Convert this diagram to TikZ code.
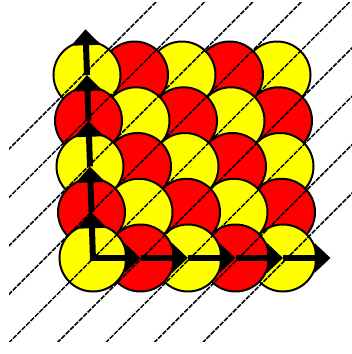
\documentclass[tikz,border=0pt]{standalone}
\usetikzlibrary{arrows.meta}
\definecolor{cred}{RGB}{255,0,0}
\definecolor{cyel}{RGB}{255,255,0}
\begin{document}
\begin{tikzpicture}[x=1pt,y=-1pt,
  disc/.style={circle,draw=black,line width=2pt,inner sep=0pt,outer sep=0pt,minimum size=67pt},
  guide/.style={line width=1.5pt,dash pattern=on 5pt off 1.2pt},
  vec/.style={line width=6pt,-{Triangle[length=16pt,width=29pt]}}]
\useasboundingbox (0,0) rectangle (352,354);
% lattice points
\foreach \i in {0,...,4}{\foreach \j in {0,...,4}{
  \coordinate (p\i\j) at ({93+47.5*\i-1.5*\j},{258-45.75*\j});}}
% discs: upper rows first, each row from right to left
\foreach \j in {4,3,2,1,0}{\foreach \i in {4,3,2,1,0}{
  \pgfmathtruncatemacro\parity{mod(\i+\j,2)}
  \ifnum\parity=0 \def\col{cyel}\else\def\col{cred}\fi
  \node[disc,fill=\col] (c\i\j) at (p\i\j) {};}}
% dashed diagonal guide lines
\begin{scope}
\clip (9,2) rectangle (353,341);
\foreach \c in {0,...,8}{
  \coordinate (la\c) at ({158+48.4*\c-400},400);
  \coordinate (lb\c) at ({158+48.4*\c+50},-50);
  \draw[guide] (la\c) -- (lb\c);}
\end{scope}
% lattice vectors
\foreach \k in {0,...,5}{
  \coordinate (h\k) at ({93+47.5*\k},258);
  \coordinate (v\k) at ({93-1.5*\k},{258-45.75*\k});}
\draw[vec] ([xshift=-3pt]h0) -- (h1);
\draw[vec] ([yshift=-3pt]v0) -- (v1);
\foreach \a/\b in {1/2,2/3,3/4,4/5}{
  \draw[vec] (h\a) -- (h\b);
  \draw[vec] (v\a) -- (v\b);}
\end{tikzpicture}
\end{document}
